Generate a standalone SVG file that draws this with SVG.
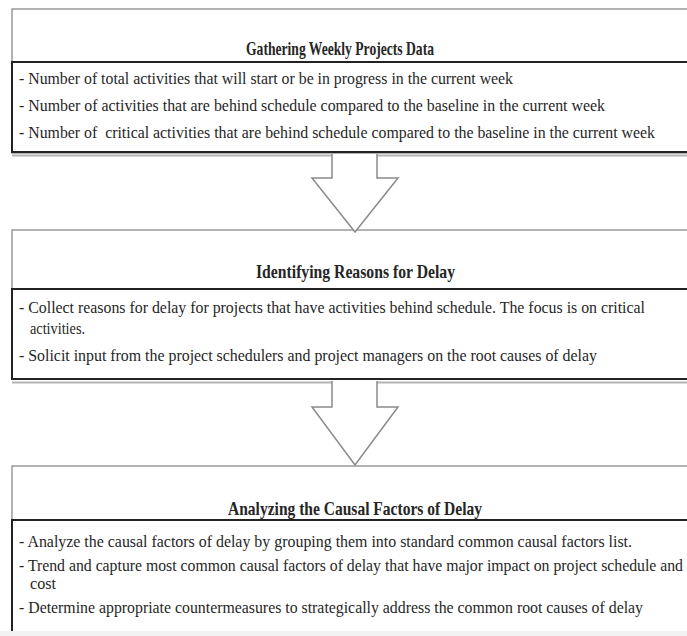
<svg xmlns="http://www.w3.org/2000/svg" width="687" height="636" viewBox="0 0 687 636">
<defs>
<style>
.outer{fill:#fff;stroke:#9a9a9a;stroke-width:1.5}
.inner{fill:#fff;stroke:#222;stroke-width:2}
.shadow{fill:none;stroke:#b4b4b4;stroke-width:2}
.title{font-family:"Liberation Serif","Times New Roman",serif;font-weight:bold;font-size:19px;fill:#262626}
.txt{font-family:"Liberation Serif","Times New Roman",serif;font-size:16px;fill:#262626;white-space:pre}
.arrowfill{fill:#fff;stroke:none}
.arrowline{fill:none;stroke:#8a8a8a;stroke-width:1.5;stroke-linejoin:miter}
</style>
</defs>
<rect width="687" height="636" fill="#fff"/>

<g id="node1">
<rect class="outer" x="12" y="9" width="700" height="144"/>
<line class="shadow" x1="12" y1="155.5" x2="700" y2="155.5"/>
<rect class="inner" x="12" y="62" width="700" height="90"/>
<text class="title" x="246" y="55" textLength="188" lengthAdjust="spacingAndGlyphs">Gathering Weekly Projects Data</text>
<text class="txt" x="19" y="84" textLength="494" lengthAdjust="spacingAndGlyphs">- Number of total activities that will start or be in progress in the current week</text>
<text class="txt" x="19" y="111" textLength="586" lengthAdjust="spacingAndGlyphs">- Number of activities that are behind schedule compared to the baseline in the current week</text>
<text class="txt" x="19" y="138" textLength="636" lengthAdjust="spacingAndGlyphs">- Number of  critical activities that are behind schedule compared to the baseline in the current week</text>
</g>

<g id="node2">
<rect class="outer" x="12" y="230" width="700" height="149"/>
<line class="shadow" x1="12" y1="382.5" x2="700" y2="382.5"/>
<rect class="inner" x="12" y="289" width="700" height="90"/>
<text class="title" x="256" y="278" textLength="199" lengthAdjust="spacingAndGlyphs">Identifying Reasons for Delay</text>
<text class="txt" x="19" y="313" textLength="626" lengthAdjust="spacingAndGlyphs">- Collect reasons for delay for projects that have activities behind schedule. The focus is on critical</text>
<text class="txt" x="30" y="334" textLength="55" lengthAdjust="spacingAndGlyphs">activities.</text>
<text class="txt" x="19" y="361" textLength="578" lengthAdjust="spacingAndGlyphs">- Solicit input from the project schedulers and project managers on the root causes of delay</text>
</g>

<g id="node3">
<rect class="outer" x="12" y="466" width="700" height="180"/>
<rect class="inner" x="12" y="520" width="700" height="130"/>
<rect x="0" y="631" width="687" height="5" fill="#f2f2f2"/>
<text class="title" x="228" y="515" textLength="254" lengthAdjust="spacingAndGlyphs">Analyzing the Causal Factors of Delay</text>
<text class="txt" x="19" y="547" textLength="613" lengthAdjust="spacingAndGlyphs">- Analyze the causal factors of delay by grouping them into standard common causal factors list.</text>
<text class="txt" x="19" y="571" textLength="664" lengthAdjust="spacingAndGlyphs">- Trend and capture most common causal factors of delay that have major impact on project schedule and</text>
<text class="txt" x="30" y="589" textLength="26" lengthAdjust="spacingAndGlyphs">cost</text>
<text class="txt" x="19" y="613" textLength="624" lengthAdjust="spacingAndGlyphs">- Determine appropriate countermeasures to strategically address the common root causes of delay</text>
</g>

<g id="connectors">
<polygon class="arrowfill" points="332,154 332,178 312,178 355,232 398,178 377,178 377,154"/>
<polyline class="arrowline" points="332,154 332,178 312,178 355,232 398,178 377,178 377,154"/>
<polygon class="arrowfill" points="332,381 332,407 312,407 355,465 398,407 377,407 377,381"/>
<polyline class="arrowline" points="332,381 332,407 312,407 355,465 398,407 377,407 377,381"/>
</g>
</svg>
